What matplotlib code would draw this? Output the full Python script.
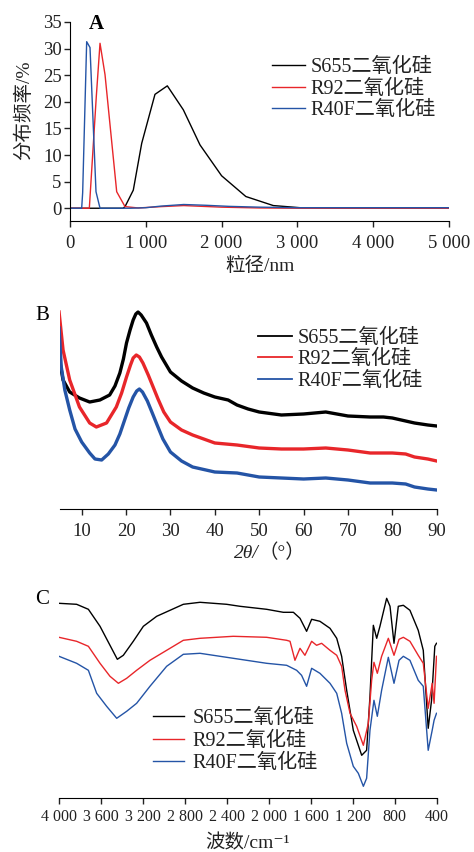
import matplotlib
matplotlib.use("Agg")
import matplotlib.pyplot as plt
from matplotlib.ticker import FixedLocator, FuncFormatter

FAM = ['Liberation Serif', 'Noto Sans CJK SC', 'DejaVu Serif']
plt.rcParams['font.family'] = FAM
plt.rcParams['axes.unicode_minus'] = False

# ---------------- data ----------------
labels = ["S655二氧化硅", "R92二氧化硅", "R40F二氧化硅"]
colors = ["#000000", "#e8262a", "#2454a6"]

# Panel A: particle size distribution (nm, %)
a_black_x = [0, 700, 726, 835, 946, 1121, 1284, 1495, 1715, 2000, 2320, 2682, 3034, 3500, 4000, 5000]
a_black_y = [0, 0, 0.3, 3.4, 12.2, 21.4, 23.0, 18.5, 11.9, 6.1, 2.2, 0.5, 0.1, 0.05, 0.05, 0.05]
a_red_x = [0, 255, 347, 396, 462, 616, 726, 900, 1200, 1500, 2000, 2500, 3000, 5000]
a_red_y = [0, 0, 21.0, 31.0, 25.1, 3.1, 0.3, 0.05, 0.3, 0.5, 0.2, 0.05, 0.0, 0.0]
a_blue_x = [0, 154, 167, 220, 264, 343, 396, 800, 1000, 1200, 1500, 1800, 2100, 2500, 3000, 5000]
a_blue_y = [0, 0, 2.9, 31.3, 30.2, 3.1, 0, 0, 0.1, 0.4, 0.7, 0.55, 0.35, 0.2, 0.1, 0.1]
a_xticks = [0, 1000, 2000, 3000, 4000, 5000]
a_yticks = [0, 5, 10, 15, 20, 25, 30, 35]

# Panel B: XRD (2theta, intensity a.u.)
b_x_black = [4.9, 5.8, 7.3, 9.5, 11.8, 14.1, 16.3, 17.5, 18.6, 19.4, 20.1, 20.9, 21.6, 22.2, 22.7, 23.4,
             24.6, 25.7, 26.9, 28.0, 30, 32.5, 35, 37.5, 40, 43, 45, 47.5, 50, 55, 60, 65, 70, 75, 78, 80, 83, 85, 88, 90]
b_black = [152, 129, 117, 111, 107, 109, 114, 123, 136, 150, 166, 179, 189, 195, 197, 194,
           186, 174, 162, 152, 137, 128, 121, 116, 112, 109, 104, 100, 97, 94, 95, 97, 93, 92, 92, 91, 88, 86, 84, 83]
b_x_red = [4.9, 5.8, 7.3, 9.5, 11.8, 13.3, 15.6, 17.8, 19.0, 20.1, 21.0, 21.6, 22.3, 23.0, 23.8, 25.0,
           26.1, 27.2, 28.5, 30, 32.5, 35, 37.5, 40, 45, 50, 55, 60, 65, 70, 75, 80, 83, 85, 88, 90]
b_red = [197, 159, 129, 102, 86, 82, 86, 102, 116, 132, 144, 151, 154, 152, 146, 134,
         122, 110, 97, 87, 79, 74, 70, 66, 64, 61, 60, 60, 61, 59, 56, 56, 55, 52, 50, 48]
b_x_blue = [4.9, 5.4, 6.2, 7.3, 8.5, 10, 11.8, 13, 14.5, 16, 17.5, 18.6, 19.6, 20.6, 21.6, 22.4, 23.0, 23.7,
            24.8, 26, 27, 28.3, 30, 32.5, 35, 40, 45, 50, 55, 60, 65, 70, 75, 80, 83, 85, 88, 90]
b_blue = [181, 142, 119, 99, 80, 67, 56, 50, 49, 55, 64, 75, 88, 101, 112, 118, 120, 117,
          108, 95, 84, 70, 57, 48, 42, 37, 36, 32, 31, 30, 31, 29, 26, 26, 25, 22, 20, 19]
b_xticks = [10, 20, 30, 40, 50, 60, 70, 80, 90]

# Panel C: FTIR (wavenumber cm-1, transmittance a.u.)
c_x = [4000, 3832, 3720, 3609, 3514, 3444, 3387, 3292, 3196, 3069, 2942, 2815, 2656, 2402, 2275, 2021,
       1862, 1766, 1703, 1640, 1592, 1513, 1417, 1353, 1306, 1258, 1195, 1115, 1068, 1036, 1004, 972,
       941, 877, 845, 807, 766, 718, 655, 576, 528, 481, 449, 418, 402]
c_black = [195, 194, 189, 172, 153, 139, 143, 157, 172, 182, 188, 194, 196, 194, 192, 189,
           186, 186, 180, 167, 179, 177, 170, 160, 142, 108, 68, 43, 48, 102, 173, 160,
           172, 200, 192, 155, 192, 193, 188, 168, 148, 70, 98, 152, 155]
c_x_red = [4000, 3832, 3720, 3609, 3514, 3434, 3355, 3260, 3133, 2942, 2815, 2656, 2339, 2021, 1830, 1798,
           1751, 1703, 1656, 1592, 1545, 1497, 1417, 1353, 1306, 1274, 1226, 1163, 1099, 1052, 1020, 998,
           966, 925, 861, 807, 759, 718, 655, 576, 528, 481, 443, 425, 402]
c_red = [161, 157, 152, 135, 122, 115, 120, 128, 138, 150, 158, 160, 162, 161, 158, 157,
         138, 150, 143, 157, 153, 155, 148, 143, 132, 108, 85, 72, 53, 75, 118, 136,
         125, 142, 160, 143, 159, 161, 157, 143, 135, 90, 115, 95, 142]
c_x_blue = [4000, 3832, 3720, 3641, 3546, 3450, 3355, 3260, 3133, 2974, 2815, 2656, 2339, 2021, 1830, 1735,
            1688, 1640, 1592, 1513, 1417, 1353, 1306, 1258, 1195, 1147, 1099, 1068, 1036, 998, 966, 925,
            861, 807, 759, 718, 655, 576, 528, 481, 443, 425, 402]
c_blue = [142, 135, 128, 105, 92, 80, 87, 95, 112, 132, 144, 145, 140, 135, 133, 128,
          123, 112, 130, 125, 115, 105, 85, 55, 32, 25, 12, 20, 68, 98, 82, 108,
          141, 115, 138, 142, 138, 118, 112, 48, 68, 78, 85]
c_xticks = [4000, 3600, 3200, 2800, 2400, 2000, 1600, 1200, 800, 400]

# ---------------- figure ----------------
W, H = 474, 852
fig = plt.figure(figsize=(W / 100, H / 100), dpi=100)

def ax_at(l, r, top, bot):
    return fig.add_axes([l / W, 1 - bot / H, (r - l) / W, (bot - top) / H])

def thousands(v, pos):
    v = int(round(v))
    if v >= 1000:
        return f"{v // 1000} {v % 1000:03d}"
    return str(v)

def px(x, y):
    # figure-fraction from pixel coordinates (origin top-left)
    return x / W, 1 - y / H

txtc = "#222222"
TICK = 13.5
LAB = 14
LEG = 14.5

def style_legend(leg):
    for t in leg.get_texts():
        t.set_color(txtc)

# ----- Panel A -----
axA = ax_at(70, 449, 22, 221)
axA.plot(a_black_x, a_black_y, color=colors[0], lw=1.0, label=labels[0])
axA.plot(a_red_x, a_red_y, color=colors[1], lw=1.0, label=labels[1])
axA.plot(a_blue_x, a_blue_y, color=colors[2], lw=1.0, label=labels[2])
axA.set_xlim(0, 5000)
axA.set_ylim(-2.4, 35)
axA.spines['top'].set_visible(False)
axA.spines['right'].set_visible(False)
axA.xaxis.set_major_locator(FixedLocator(a_xticks))
axA.xaxis.set_major_formatter(FuncFormatter(thousands))
axA.yaxis.set_major_locator(FixedLocator(a_yticks))
axA.tick_params(direction='out', length=4, width=1, labelsize=TICK, colors=txtc)
axA.tick_params(axis='x', pad=6)
axA.tick_params(axis='y', pad=2)
axA.set_xlabel("粒径/nm", fontsize=LAB, color=txtc)
axA.xaxis.set_label_coords(0.5, (221 - 257) / 199)
axA.set_ylabel("分布频率/%", fontsize=LAB, color=txtc)
axA.yaxis.set_label_coords((33 - 70) / 379, (221 - 110) / 199)
fig.text(*px(96, 24), "A", fontsize=15, fontweight='bold', ha='center', va='center')
legA = axA.legend(loc='upper left', bbox_to_anchor=((272 - 70) / 379, 1 - (58 - 22) / 199),
                  frameon=False, fontsize=LEG, handlelength=1.65, handletextpad=0.25,
                  labelspacing=0.12, borderaxespad=0, borderpad=0)
style_legend(legA)

# ----- Panel B -----
axB = ax_at(59.5, 436.7, 300, 509)
axB.plot(b_x_black, b_black, color=colors[0], lw=2.4, label=labels[0])
axB.plot(b_x_red, b_red, color=colors[1], lw=2.4, label=labels[1])
axB.plot(b_x_blue, b_blue, color=colors[2], lw=2.4, label=labels[2])
axB.set_xlim(5, 90)
axB.set_ylim(0, 209)
for s in ['top', 'right', 'left']:
    axB.spines[s].set_visible(False)
axB.set_yticks([])
axB.xaxis.set_major_locator(FixedLocator(b_xticks))
axB.tick_params(direction='out', length=4, width=1, labelsize=TICK, colors=txtc, pad=6)
fig.text(*px(259, 553), "2θ/", fontsize=LAB, fontstyle='italic', color=txtc, ha='right', va='center')
fig.text(*px(259, 553), "（°）", fontsize=LAB, color=txtc, ha='left', va='center')
fig.text(*px(42, 316), "B", fontsize=15, ha='center', va='center')
legB = axB.legend(loc='upper left', bbox_to_anchor=((258 - 59.5) / 377.2, 1 - (329 - 300) / 209),
                  frameon=False, fontsize=LEG, handlelength=1.7, handletextpad=0.25,
                  labelspacing=0.1, borderaxespad=0, borderpad=0)
style_legend(legB)
for h in legB.legend_handles:
    h.set_linewidth(1.3)

# ----- Panel C -----
axC = ax_at(59, 436.7, 590, 798.3)
axC.plot(c_x, c_black, color=colors[0], lw=1.0, label=labels[0])
axC.plot(c_x_red, c_red, color=colors[1], lw=1.0, label=labels[1])
axC.plot(c_x_blue, c_blue, color=colors[2], lw=1.0, label=labels[2])
axC.set_xlim(4000, 400)
axC.set_ylim(0, 208.3)
for s in ['top', 'right', 'left']:
    axC.spines[s].set_visible(False)
axC.set_yticks([])
axC.xaxis.set_major_locator(FixedLocator(c_xticks))
axC.xaxis.set_major_formatter(FuncFormatter(thousands))
axC.tick_params(direction='out', length=4, width=1, labelsize=11.5, colors=txtc, pad=4)
fig.text(*px(248, 843), "波数/cm⁻¹", fontsize=LAB, color=txtc, ha='center', va='center')
fig.text(*px(42, 600), "C", fontsize=15, ha='center', va='center')
legC = axC.legend(loc='upper left', bbox_to_anchor=((153 - 59) / 377.7, 1 - (709 - 590) / 208.3),
                  frameon=False, fontsize=LEG, handlelength=1.55, handletextpad=0.4,
                  labelspacing=0.17, borderaxespad=0, borderpad=0)
style_legend(legC)

fig.savefig("out.png", dpi=100)
